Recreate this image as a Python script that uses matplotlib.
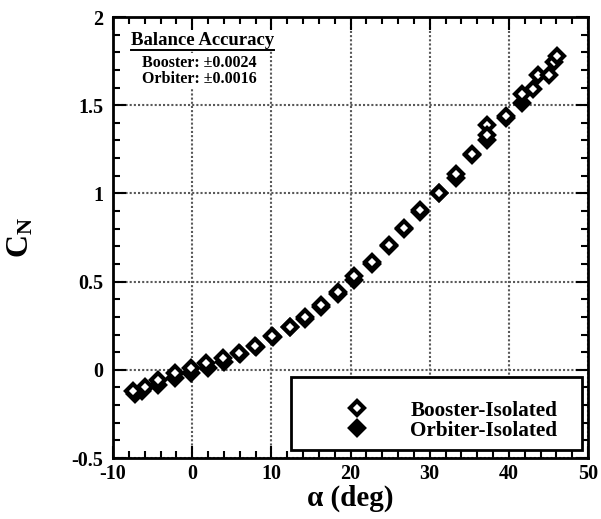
import matplotlib
matplotlib.use("Agg")
import matplotlib.pyplot as plt
from matplotlib.ticker import MultipleLocator
from matplotlib.patches import Rectangle
from matplotlib.lines import Line2D

plt.rcParams['font.family'] = ['Liberation Serif', 'DejaVu Serif']
plt.rcParams['font.weight'] = 'bold'
plt.rcParams['mathtext.fontset'] = 'custom'
plt.rcParams['mathtext.rm'] = 'Liberation Serif:bold'
plt.rcParams['mathtext.it'] = 'Liberation Serif:bold'
plt.rcParams['mathtext.bf'] = 'Liberation Serif:bold'

# Data
booster_alpha = [-7.5, -6.0, -4.3, -2.2, -0.2, 1.8, 3.9, 5.9, 7.9, 10.1, 12.3, 14.3,
                 16.3, 18.4, 20.4, 22.7, 24.8, 26.8, 28.8, 31.2, 33.3, 35.3, 37.3,
                 37.3, 39.7, 41.6, 43.0, 43.7, 45.1, 45.7, 46.1]
booster_cn = [-0.12, -0.10, -0.055, -0.018, 0.008, 0.04, 0.065, 0.098, 0.135, 0.19,
              0.245, 0.30, 0.365, 0.44, 0.53, 0.61, 0.71, 0.805, 0.905, 1.004, 1.112,
              1.226, 1.386, 1.33, 1.436, 1.566, 1.59, 1.67, 1.67, 1.746, 1.777]

orbiter_alpha = [-7.2, -6.3, -4.3, -2.2, -0.1, 2.0, 4.0, 6.0, 8.0, 10.2, 12.3, 14.3,
                 16.3, 18.4, 20.4, 22.7, 24.8, 26.8, 28.8, 31.2, 33.3, 35.3, 37.3,
                 39.7, 41.6]
orbiter_cn = [-0.14, -0.12, -0.085, -0.047, -0.02, 0.008, 0.045, 0.09, 0.13, 0.185,
              0.24, 0.29, 0.355, 0.43, 0.51, 0.60, 0.70, 0.80, 0.895, 1.0, 1.09, 1.22,
              1.30, 1.43, 1.515]

series_labels = ['Booster-Isolated', 'Orbiter-Isolated']
accuracy_title = 'Balance Accuracy'
accuracy_lines = ['Booster: \u00b10.0024', 'Orbiter: \u00b10.0016']

fig = plt.figure(figsize=(6.01, 5.19), dpi=100)
ax = fig.add_axes([113/601, 1-458/519, 475/601, 441/519])

ax.set_xlim(-10, 50)
ax.set_ylim(-0.5, 2)
ax.xaxis.set_major_locator(MultipleLocator(10))
ax.xaxis.set_minor_locator(MultipleLocator(2))
ax.yaxis.set_major_locator(MultipleLocator(0.5))
ax.yaxis.set_minor_locator(MultipleLocator(0.1))
ax.set_xticks(range(-10, 51, 10))
ax.set_xticklabels([str(v) for v in range(-10, 51, 10)])
ax.set_yticks([-0.5, 0, 0.5, 1, 1.5, 2])
ax.set_yticklabels(['-0.5', '0', '0.5', '1', '1.5', '2'])

ax.tick_params(which='both', direction='in', top=True, right=True, width=1.5)
ax.tick_params(which='major', length=9, labelsize=14.5)
ax.tick_params(axis='x', which='major', pad=4)
ax.tick_params(axis='y', which='major', pad=7)
ax.tick_params(which='minor', length=5)
for s in ax.spines.values():
    s.set_linewidth(2)

ax.grid(True, which='major', color='0.35', linestyle=(0, (1, 1)), linewidth=1.5)
ax.set_axisbelow(True)

mk = dict(marker='D', markersize=7.2, markeredgewidth=3.0, linestyle='none',
          markeredgecolor='black')
ax.plot(orbiter_alpha, orbiter_cn, markerfacecolor='black', zorder=3, **mk)
ax.plot(booster_alpha, booster_cn, markerfacecolor='white', zorder=4, **mk)

ax.set_xlabel('\u03b1 (deg)', fontsize=21, fontweight='bold', labelpad=1)
ax.set_ylabel('C$_{\\mathregular{N}}$', fontsize=23, fontweight='bold', labelpad=26)

# Balance accuracy annotation
bb = dict(facecolor='white', edgecolor='none', pad=1.5)
t_title = ax.text(0.038, 0.937, accuracy_title, transform=ax.transAxes,
                  fontsize=13.5, fontweight='bold', va='baseline', ha='left',
                  bbox=bb, zorder=5)
ax.text(0.061, 0.887, accuracy_lines[0], transform=ax.transAxes, fontsize=11.5,
        fontweight='bold', va='baseline', ha='left', bbox=bb, zorder=5)
ax.text(0.061, 0.850, accuracy_lines[1], transform=ax.transAxes, fontsize=11.5,
        fontweight='bold', va='baseline', ha='left', bbox=bb, zorder=5)

# Legend frame
rect = Rectangle((0.375, 0.018), 0.612, 0.166, transform=ax.transAxes,
                 facecolor='white', edgecolor='black', linewidth=2, zorder=6)
ax.add_patch(rect)
handles = [Line2D([], [], markerfacecolor='white', **mk),
           Line2D([], [], markerfacecolor='black', **mk)]
leg = ax.legend(handles, series_labels, loc='lower left',
                bbox_to_anchor=(0.375, 0.018, 0.612, 0.166), mode='expand',
                frameon=False, prop={'family': 'Liberation Serif', 'weight': 'bold', 'size': 15.2},
                handlelength=5.3, handletextpad=-0.1, borderpad=0.45, labelspacing=0.0,
                numpoints=1, borderaxespad=0)
leg.set_zorder(7)

# underline for the title
fig.canvas.draw()
r = fig.canvas.get_renderer()
ext = t_title.get_window_extent(r)
y_line = ext.y0 - 1.5
fig.add_artist(Line2D([ext.x0, ext.x1], [y_line, y_line], transform=None,
                      color='black', linewidth=1.4, zorder=10))

fig.savefig('out.png', dpi=100)
